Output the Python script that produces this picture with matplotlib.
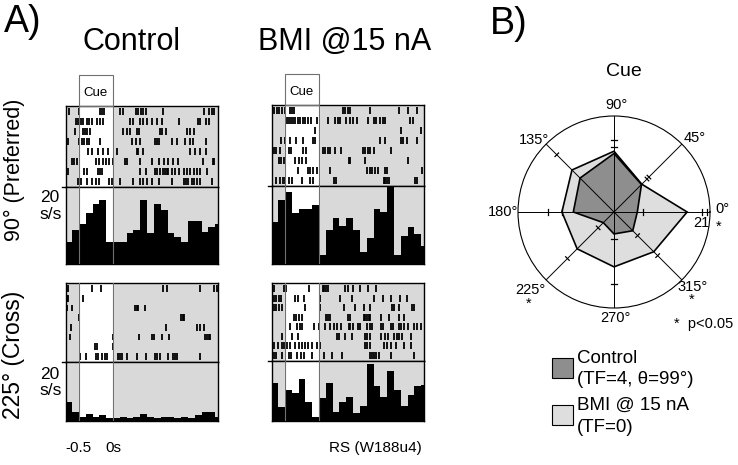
import matplotlib
matplotlib.use("Agg")
import matplotlib.pyplot as plt
import numpy as np
from matplotlib.patches import Rectangle

plt.rcParams['font.family'] = ['Liberation Sans', 'DejaVu Sans']

# ---- data -------------------------------------------------------------
# spike times (ms, relative to cue offset), one list per trial
raster_ctrl_pref = [
    [-642, -495, -191, -157, -127, 103, 152, 338, 372, 407, 446, 485, 740, 1328, 1402, 1450, 1485],
    [-544, -510, -475, -446, -387, -348, -314, -230, -191, -152, 250, 289, 397, 446, 505, 568, 642, 715, 975, 1240, 1279, 1357, 1402],
    [-559, -446, -412, -377, -338, 142, 201, 250, 358, 387, 691, 715, 779, 1083, 1122, 1181],
    [-657, -495, -461, -426, -387, -348, -191, 274, 338, 397, 617, 642, 671, 862, 936, 1063, 1122, 1171, 1367],
    [-363, -314, -216, -142, -69, 54, 348, 372, 436, 1132, 1205, 1279, 1367],
    [-608, -573, -534, -250, -201, -152, -103, -54, -5, 176, 201, 397, 568, 681, 750, 813, 887, 960, 1318, 1465, 1485],
    [-657, -426, -377, -216, -191, -167, 397, 485, 617, 642, 691, 730, 764, 789, 813, 862, 911, 975, 1034, 1083, 1132, 1181, 1230, 1279, 1377],
    [-510, -475, -377, -314, -250, -201, -54, -20, 103, 299, 397, 446, 505, 568, 681, 862, 1034, 1073, 1107, 1156, 1191, 1230, 1279, 1450],
]
raster_bmi_pref = [
    [-657, -617, -583, -544, -495, -431, -397, -363, 353, 387, 421, 461, 755, 1171, 1303, 1431],
    [-470, -446, -412, -382, -348, -314, -274, -235, -201, -167, -118, -29, 127, 240, 274, 314, 402, 451, 500, 559, 715, 804, 843, 892, 941, 975, 1333, 1382],
    [-54, 1196, 1499],
    [-559, -495, -421, -333, -240, -88, -54, 892, 975, 1196, 1235, 1284, 1441],
    [-666, -627, -578, -446, -412, -240, -186, 59, 93, 127, 167, 240, 323, 647, 681, 715, 755, 804, 1058],
    [-593, -559, -510, -348, -299, -250, -186, 436, 461, 681, 1303],
    [-314, -167, -127, -88, -29, 157, 706, 745, 779, 828, 862, 975, 1000, 1514],
    [-627, -568, -529, -495, -446, -397, -250, -127, -88, 216, 255, 951, 975, 1000, 1024, 1401, 1441],
]
raster_ctrl_cross = [
    [-657, -314, -181, 740, 789, 1269, 1475, 1524],
    [-671, -657, -446],
    [-671, -608, 323, 348, 372, 470],
    [-495, 995, 1024, 1044],
    [-622, 779, 1230, 1269, 1328],
    [-632, -5, 387, 568, 603, 715, 828, 1352, 1377, 1401, 1426],
    [-265, -230, 5],
    [-485, -397, -250, -216, -167, -118, -93, 78, 103, 127, 201, 348, 485, 617, 642, 691, 813, 887, 911, 936, 1269],
]
raster_bmi_cross = [
    [-666, -510, -480, -152, 59, 78, 108, 127, 387, 421, 500, 598, 715, 843],
    [-657, -627, -593, -559, -348, -314, -225, 20, 314, 485, 804, 941, 1058, 1186, 1294],
    [-657, -627, -593, -544, -201, 20, 372, 534, 657, 755, 1073, 1107, 1171, 1367, 1392],
    [-363, -333, -299, -250, 108, 127, 157, 421, 461, 657, 681, 706, 730, 755, 902, 1024, 1171, 1245],
    [-431, -323, -284, -250, -78, -5, 93, 167, 216, 265, 323, 436, 461, 500, 568, 608, 706, 745, 779, 902, 941, 1049, 1088, 1171, 1205, 1245, 1303, 1392, 1441, 1499],
    [-544, -397, -314, 265, 289, 387, 485, 681, 706, 755, 902, 975, 1009, 1107, 1147, 1171, 1220, 1343],
    [-691, -657, -608, -544, -510, -470, -431, -348, -299, -250, -201, -167, -103, -29, 20, 681, 706, 755, 951, 990, 1049, 1122, 1245, 1343],
    [-657, -627, -544, -446, -412, -323, -265, -225, -103, 69, 191, 338, 755, 779, 813, 843, 877, 1049, 1392],
]

# peri-stimulus histograms (s/s), 100 ms bins starting at -700 ms
bin_start = -0.7
bin_width = 0.1
hist_ctrl_pref = [5.8, 8.8, 10.3, 13.3, 15.7, 16.6, 5.8, 5.8, 5.8, 8.0, 8.8, 16.7,
                  8.0, 15.7, 14.0, 8.0, 7.0, 5.8, 11.2, 11.2, 8.2, 9.7, 10.3]
hist_bmi_pref = [10.8, 16.4, 18.5, 13.0, 14.0, 14.0, 15.1, 2.4, 8.7, 11.9, 9.7, 11.9,
                 8.7, 3.2, 6.6, 14.0, 13.4, 20.0, 2.4, 7.3, 9.6, 7.6, 4.5]
hist_ctrl_cross = [6.5, 3.0, 1.5, 2.5, 1.5, 2.0, 1.0, 1.0, 1.5, 1.0, 1.5, 2.5,
                   1.5, 1.0, 1.5, 1.5, 1.0, 1.5, 1.0, 2.0, 3.0, 3.0, 1.5]
hist_bmi_cross = [12.6, 4.8, 10.3, 9.2, 13.9, 6.4, 1.4, 7.6, 12.8, 3.0, 6.4, 7.9,
                  2.8, 5.0, 19.0, 11.7, 7.9, 16.8, 10.3, 5.0, 8.7, 11.7, 12.0]

# polar tuning (s/s)
directions = [0, 45, 90, 135, 180, 225, 270, 315]
ctrl_rate = [5.1, 8.5, 12.8, 10.5, 8.9, 3.3, 4.8, 5.8]
bmi_rate = [16.0, 8.6, 13.3, 13.0, 11.4, 11.4, 12.0, 12.3]
err_dirs = [0, 0, 0, 45, 45, 90, 90, 135, 180, 180, 225, 225, 270, 270, 315, 315]
err_vals = [6.3, 19.2, 20.4, 10.2, 10.8, 14.2, 15.8, 17.7, 14.4, 11.4, 14.4, 4.9, 15.8, 5.9, 13.5, 7.3]
r_max = 21

W, H = 738, 465
fig = plt.figure(figsize=(W / 100, H / 100), dpi=100)


def rect(x0, y0, x1, y1):
    return [x0 / W, 1 - y1 / H, (x1 - x0) / W, (y1 - y0) / H]


def ftext(x, y, s, **kw):
    fig.text(x / W, 1 - y / H, s, **kw)


LIGHT = '#d9d9d9'
XLIM = (-0.69, 1.54)


def draw_panel(x0, top, mid, bot, raster, hist, cue_box):
    ax_r = fig.add_axes(rect(x0, top, x0 + 152, mid))
    ax_h = fig.add_axes(rect(x0, mid, x0 + 152, bot))
    for ax in (ax_r, ax_h):
        ax.set_facecolor(LIGHT)
        ax.axvspan(-0.5, 0, color='white', zorder=0)
        ax.axvline(-0.5, color='#707070', lw=0.8, zorder=3)
        ax.axvline(0, color='#707070', lw=0.8, zorder=3)
        ax.set_xlim(*XLIM)
        ax.set_xticks([])
        ax.set_yticks([])
        for sp in ax.spines.values():
            sp.set_linewidth(1.0)
    ax_r.set_ylim(-0.6, len(raster) - 0.4)
    ax_r.eventplot([np.array(tr) / 1000 for tr in raster],
                   lineoffsets=np.arange(len(raster))[::-1],
                   linelengths=0.7, linewidths=1.3, colors='k')
    edges = bin_start + bin_width * np.arange(len(hist))
    ax_h.bar(edges, hist, width=bin_width, align='edge', color='k', lw=0, zorder=2)
    ax_h.set_ylim(0, 20)
    # tick for 20 s/s
    fig.add_artist(plt.Line2D([(x0 - 4) / W, x0 / W], [1 - mid / H] * 2, color='k', lw=1))
    if cue_box:
        px = lambda t: x0 + (t - XLIM[0]) / (XLIM[1] - XLIM[0]) * 152
        c0, c1 = px(-0.5), px(0)
        fig.add_artist(Rectangle((c0 / W, 1 - top / H), (c1 - c0) / W, 31 / H,
                                 fill=False, ec='#707070', lw=0.8, transform=fig.transFigure))
        ftext((c0 + c1) / 2, top - 13, 'Cue', ha='center', va='center', fontsize=9.5)


draw_panel(66, 106, 187, 264, raster_ctrl_pref, hist_ctrl_pref, True)
draw_panel(272, 105, 186, 264, raster_bmi_pref, hist_bmi_pref, True)
draw_panel(66, 283, 362, 421, raster_ctrl_cross, hist_ctrl_cross, False)
draw_panel(272, 283, 361, 421, raster_bmi_cross, hist_bmi_cross, False)

# ---- panel A labels ----
ftext(23, 22, 'A)', ha='center', va='center', fontsize=27)
ftext(132, 42, 'Control', ha='center', va='center', fontsize=22)
ftext(345, 42, 'BMI @15 nA', ha='center', va='center', fontsize=22)
ftext(14, 170, '90° (Preferred)', ha='center', va='center', rotation=90, fontsize=15.5)
ftext(14, 355, '225° (Cross)', ha='center', va='center', rotation=90, fontsize=16.5)
for y in (198, 374):
    ftext(50, y, '20', ha='center', va='center', fontsize=12.5)
    ftext(51, y + 16, 's/s', ha='center', va='center', fontsize=12.5)
ftext(78, 448, '-0.5', ha='center', va='center', fontsize=11)
ftext(113, 448, '0s', ha='center', va='center', fontsize=11)
ftext(375, 448, 'RS (W188u4)', ha='center', va='center', fontsize=11)

# ---- panel B: polar plot ----
cx, cy, R = 614, 212, 96
axp = fig.add_axes(rect(cx - R, cy - R, cx + R, cy + R), projection='polar')
axp.set_ylim(0, r_max)
axp.grid(False)
axp.set_xticks([])
axp.set_yticks([])
axp.spines['polar'].set_linewidth(0.8)

th = np.deg2rad(directions + directions[:1])
axp.fill(th, bmi_rate + bmi_rate[:1], facecolor='#dedede', edgecolor='k', lw=1.2, zorder=2)
axp.fill(th, ctrl_rate + ctrl_rate[:1], facecolor='#8e8e8e', edgecolor='k', lw=1.2, zorder=3)
for d in directions:
    axp.plot([np.deg2rad(d)] * 2, [0, r_max], color='k', lw=0.7, zorder=4)
for d, r in zip(err_dirs, err_vals):
    a = np.deg2rad(d)
    dl = 0.55
    xs = [r * np.cos(a) - dl * np.sin(a), r * np.cos(a) + dl * np.sin(a)]
    ys = [r * np.sin(a) + dl * np.cos(a), r * np.sin(a) - dl * np.cos(a)]
    axp.plot(np.arctan2(ys, xs), np.hypot(xs, ys), color='k', lw=0.9, zorder=5)

ftext(509, 24, 'B)', ha='center', va='center', fontsize=27)
ftext(624, 71, 'Cue', ha='center', va='center', fontsize=14)
pl = dict(ha='center', va='center', fontsize=10.5)
ftext(617, 105, '90°', **pl)
ftext(695, 138, '45°', **pl)
ftext(534, 140, '135°', **pl)
ftext(503, 212, '180°', **pl)
ftext(722, 209, '0°', **pl)
ftext(701, 223, '21', **pl)
ftext(719, 227, '*', **pl)
ftext(530, 290, '225°', **pl)
ftext(529, 304, '*', **pl)
ftext(693, 287, '315°', **pl)
ftext(692, 300, '*', **pl)
ftext(615, 318, '270°', **pl)
ftext(704, 324, '*  p<0.05', **pl)

# legend
fig.add_artist(Rectangle((552 / W, 1 - 378 / H), 21 / W, 20 / H, fc='#8e8e8e', ec='k',
                         lw=0.8, transform=fig.transFigure))
fig.add_artist(Rectangle((552 / W, 1 - 425 / H), 21 / W, 20 / H, fc='#dedede', ec='k',
                         lw=0.8, transform=fig.transFigure))
lg = dict(ha='left', va='center', fontsize=13.5)
ftext(577, 358, 'Control', **lg)
ftext(577, 379, '(TF=4, θ=99°)', **lg)
ftext(577, 405, 'BMI @ 15 nA', **lg)
ftext(577, 427, '(TF=0)', **lg)

fig.savefig('out.png', dpi=100)
